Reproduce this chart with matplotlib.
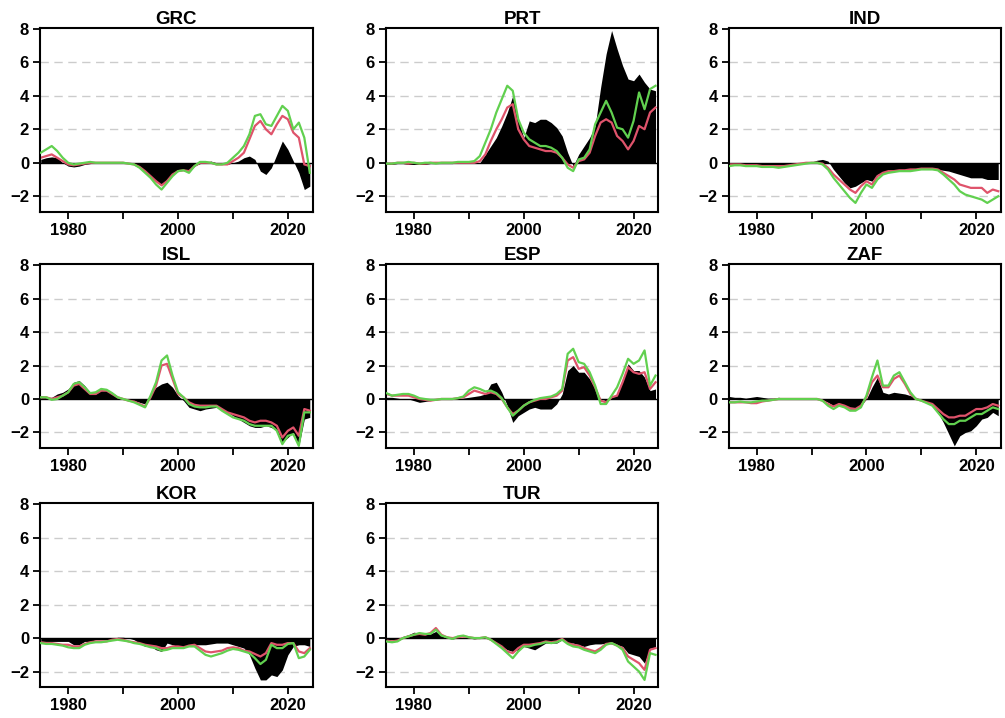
import numpy as np
import matplotlib
matplotlib.use("Agg")
import matplotlib.pyplot as plt

plt.rcParams['font.family'] = ['Liberation Sans', 'DejaVu Sans']

years = np.arange(1975, 2025)
countries = ["GRC", "PRT", "IND", "ISL", "ESP", "ZAF", "KOR", "TUR"]

# black area series (annual readings, 1975-2024)
grc_bar = [0.2, 0.3, 0.35, 0.3, 0.0, -0.2, -0.25, -0.2, -0.1, -0.05,
           0.0, 0.05, 0.05, 0.05, 0.05, 0.0, 0.0, -0.1, -0.3, -0.5,
           -0.8, -1.1, -1.3, -1.0, -0.7, -0.5, -0.4, -0.5, -0.2, -0.05,
           0.0, 0.1, 0.0, -0.1, -0.1, 0.0, 0.1, 0.3, 0.4, 0.2,
           -0.5, -0.7, -0.3, 0.5, 1.3, 0.8, 0.1, -0.6, -1.6, -1.4]
grc_red = [0.3, 0.4, 0.5, 0.3, 0.1, -0.1, -0.15, -0.1, -0.05, 0.0,
           0.0, 0.0, 0.0, 0.0, 0.0, 0.0, -0.05, -0.1, -0.25, -0.5,
           -0.8, -1.1, -1.35, -1.1, -0.7, -0.5, -0.45, -0.5, -0.2, 0.0,
           0.0, 0.0, -0.1, -0.1, -0.1, 0.1, 0.3, 0.6, 1.4, 2.2,
           2.5, 2.0, 1.7, 2.3, 2.8, 2.6, 1.8, 1.5, -0.1, -0.2]
grc_green = [0.6, 0.8, 1.0, 0.7, 0.3, 0.0, -0.1, -0.05, 0.0, 0.05,
             0.0, 0.0, 0.0, 0.0, 0.0, 0.0, -0.05, -0.1, -0.3, -0.6,
             -0.9, -1.3, -1.6, -1.2, -0.8, -0.5, -0.45, -0.6, -0.2, 0.05,
             0.05, 0.0, -0.1, -0.1, 0.0, 0.3, 0.6, 1.0, 1.7, 2.8,
             2.9, 2.3, 2.2, 2.8, 3.4, 3.1, 2.0, 2.4, 1.5, -0.6]

prt_bar = [-0.1, -0.1, -0.05, -0.05, -0.1, -0.1, -0.1, -0.1, -0.05, -0.05,
           -0.05, -0.05, -0.05, 0.0, 0.0, 0.0, 0.0, 0.0, 0.5, 1.0,
           1.5, 2.2, 3.0, 4.0, 2.6, 1.5, 2.5, 2.4, 2.6, 2.6,
           2.4, 2.1, 1.6, 0.6, -0.2, 0.5, 1.0, 1.5, 2.2, 4.5,
           6.5, 7.9, 6.8, 5.8, 5.0, 4.9, 5.3, 4.8, 4.4, 4.3]
prt_red = [-0.05, -0.05, 0.0, 0.0, -0.05, 0.0, -0.05, -0.05, 0.0, 0.0,
           0.0, 0.0, 0.0, 0.0, 0.0, 0.0, 0.0, 0.1, 0.5, 1.3,
           2.0, 2.6, 3.3, 3.5, 2.0, 1.4, 1.0, 0.9, 0.8, 0.7,
           0.7, 0.6, 0.3, -0.1, -0.3, 0.1, 0.2, 0.6, 1.6, 2.4,
           2.6, 2.4, 1.6, 1.3, 0.8, 1.3, 2.2, 2.0, 3.0, 3.3]
prt_green = [-0.05, -0.05, 0.0, 0.0, 0.05, 0.0, -0.05, 0.0, 0.0, -0.05,
             0.0, 0.0, 0.0, 0.05, 0.05, 0.05, 0.1, 0.4, 1.2, 2.0,
             3.0, 3.8, 4.6, 4.3, 2.6, 1.8, 1.4, 1.2, 1.0, 1.0,
             0.9, 0.7, 0.3, -0.3, -0.5, 0.2, 0.3, 0.8, 2.3, 3.0,
             3.7, 3.0, 2.1, 2.0, 1.5, 2.5, 4.2, 3.2, 4.4, 4.6]

ind_bar = [-0.1, -0.1, -0.1, -0.15, -0.15, -0.2, -0.25, -0.25, -0.2, -0.2,
           -0.15, -0.1, -0.1, 0.0, 0.05, 0.05, 0.15, 0.2, 0.1, -0.4,
           -0.8, -1.2, -1.5, -1.4, -1.2, -1.0, -1.1, -0.7, -0.6, -0.5,
           -0.5, -0.5, -0.45, -0.45, -0.4, -0.35, -0.35, -0.35, -0.4, -0.45,
           -0.5, -0.6, -0.7, -0.8, -0.9, -0.9, -0.9, -1.0, -1.0, -1.0]
ind_red = [-0.1, -0.1, -0.1, -0.15, -0.15, -0.15, -0.2, -0.2, -0.2, -0.2,
           -0.2, -0.15, -0.1, -0.05, 0.0, 0.0, 0.0, -0.05, -0.3, -0.7,
           -1.0, -1.3, -1.6, -1.8, -1.4, -1.1, -1.3, -0.8, -0.6, -0.5,
           -0.5, -0.45, -0.45, -0.4, -0.4, -0.35, -0.35, -0.35, -0.4, -0.6,
           -0.8, -1.0, -1.3, -1.4, -1.5, -1.5, -1.5, -1.8, -1.6, -1.7]
ind_green = [-0.2, -0.15, -0.15, -0.2, -0.2, -0.2, -0.25, -0.25, -0.25, -0.3,
             -0.25, -0.2, -0.15, -0.1, -0.05, 0.0, 0.0, -0.1, -0.4, -0.9,
             -1.3, -1.7, -2.1, -2.4, -1.8, -1.3, -1.5, -1.0, -0.7, -0.6,
             -0.55, -0.5, -0.5, -0.5, -0.45, -0.4, -0.4, -0.4, -0.45, -0.7,
             -1.0, -1.3, -1.7, -1.9, -2.0, -2.1, -2.2, -2.4, -2.2, -2.0]

isl_bar = [0.2, 0.1, 0.1, 0.3, 0.4, 0.6, 1.0, 1.1, 0.8, 0.4,
           0.3, 0.5, 0.5, 0.3, 0.1, 0.0, -0.05, -0.1, -0.2, -0.3,
           0.3, 0.7, 0.9, 1.0, 0.7, 0.2, -0.1, -0.5, -0.6, -0.7,
           -0.6, -0.55, -0.5, -0.6, -0.8, -1.0, -1.2, -1.4, -1.6, -1.7,
           -1.7, -1.6, -1.7, -1.9, -2.6, -2.3, -2.0, -2.8, -1.2, -1.1]
isl_red = [0.1, 0.1, 0.0, 0.1, 0.2, 0.4, 0.8, 0.9, 0.6, 0.3,
           0.3, 0.5, 0.5, 0.3, 0.1, 0.0, -0.1, -0.15, -0.3, -0.45,
           0.1, 0.8, 2.0, 2.1, 1.2, 0.3, 0.1, -0.2, -0.35, -0.4,
           -0.4, -0.4, -0.4, -0.6, -0.8, -0.9, -1.0, -1.1, -1.3, -1.4,
           -1.3, -1.3, -1.4, -1.6, -2.3, -1.9, -1.7, -2.2, -0.6, -0.7]
isl_green = [0.1, 0.1, -0.05, 0.0, 0.2, 0.4, 0.9, 1.0, 0.7, 0.35,
             0.4, 0.6, 0.55, 0.35, 0.1, 0.0, -0.1, -0.2, -0.35, -0.5,
             0.2, 1.0, 2.3, 2.6, 1.4, 0.4, 0.1, -0.3, -0.45, -0.5,
             -0.5, -0.45, -0.45, -0.7, -0.9, -1.1, -1.2, -1.3, -1.5, -1.6,
             -1.6, -1.6, -1.6, -1.9, -2.7, -2.2, -2.1, -2.8, -0.8, -0.8]

esp_bar = [0.1, 0.1, 0.05, 0.0, 0.0, -0.1, -0.2, -0.15, -0.1, -0.05,
           0.0, 0.0, 0.0, 0.0, 0.05, 0.1, 0.15, 0.2, 0.3, 0.9,
           1.0, 0.4, -0.4, -1.4, -1.0, -0.8, -0.6, -0.5, -0.6, -0.6,
           -0.6, -0.3, 0.3, 1.7, 2.0, 1.6, 1.6, 1.2, 0.6, 0.0,
           -0.1, 0.1, 0.2, 1.1, 2.1, 1.7, 1.7, 1.3, 0.5, 0.6]
esp_red = [0.3, 0.2, 0.2, 0.2, 0.2, 0.1, 0.0, -0.05, -0.1, -0.05,
           0.0, 0.0, 0.0, 0.05, 0.1, 0.3, 0.5, 0.4, 0.3, 0.4,
           0.3, 0.0, -0.5, -0.9, -0.7, -0.4, -0.2, -0.1, 0.0, 0.0,
           0.1, 0.2, 0.5, 2.3, 2.5, 1.8, 1.9, 1.4, 0.7, -0.1,
           -0.2, 0.1, 0.2, 1.0, 1.9, 1.6, 1.5, 1.6, 0.6, 1.0]
esp_green = [0.35, 0.2, 0.25, 0.3, 0.3, 0.2, 0.05, 0.0, -0.05, -0.05,
             0.0, 0.0, 0.0, 0.05, 0.15, 0.5, 0.7, 0.6, 0.45, 0.5,
             0.35, 0.05, -0.5, -1.0, -0.7, -0.4, -0.2, -0.05, 0.05, 0.1,
             0.15, 0.3, 0.6, 2.7, 3.0, 2.2, 2.1, 1.6, 0.8, -0.3,
             -0.3, 0.2, 0.7, 1.5, 2.4, 2.1, 2.3, 2.9, 0.8, 1.4]

zaf_bar = [0.15, 0.1, 0.1, 0.05, 0.1, 0.15, 0.1, 0.05, 0.05, 0.1,
           0.05, 0.0, 0.0, 0.0, 0.0, 0.0, 0.0, -0.05, -0.2, -0.4,
           -0.35, -0.4, -0.6, -0.6, -0.4, 0.0, 0.7, 1.3, 0.4, 0.3,
           0.4, 0.35, 0.3, 0.2, 0.1, -0.1, -0.2, -0.4, -0.8, -1.4,
           -2.1, -2.8, -2.2, -2.0, -1.9, -1.6, -1.2, -1.1, -0.8, -1.0]
zaf_red = [-0.2, -0.2, -0.2, -0.2, -0.25, -0.25, -0.15, -0.1, -0.05, 0.0,
           0.0, 0.0, 0.0, 0.0, 0.0, 0.0, 0.0, -0.1, -0.3, -0.45,
           -0.3, -0.4, -0.55, -0.6, -0.4, 0.1, 1.0, 1.4, 0.7, 0.7,
           1.2, 1.4, 0.9, 0.3, 0.0, -0.1, -0.2, -0.3, -0.6, -0.9,
           -1.1, -1.1, -1.0, -1.0, -0.8, -0.6, -0.6, -0.5, -0.3, -0.4]
zaf_green = [-0.2, -0.2, -0.15, -0.2, -0.2, -0.15, -0.1, -0.1, -0.05, 0.0,
             0.0, 0.0, 0.0, 0.0, 0.0, 0.0, 0.0, -0.1, -0.4, -0.6,
             -0.4, -0.5, -0.7, -0.7, -0.5, 0.2, 1.3, 2.3, 0.8, 0.8,
             1.4, 1.6, 1.0, 0.4, 0.0, -0.1, -0.25, -0.4, -0.8, -1.2,
             -1.5, -1.5, -1.3, -1.3, -1.1, -0.9, -0.9, -0.7, -0.5, -0.6]

kor_bar = [-0.2, -0.2, -0.2, -0.2, -0.2, -0.2, -0.4, -0.4, -0.2, -0.2,
           -0.1, -0.1, -0.1, -0.1, 0.05, 0.05, 0.0, -0.1, -0.3, -0.5,
           -0.5, -0.7, -0.8, -0.3, -0.4, -0.5, -0.5, -0.45, -0.4, -0.4,
           -0.4, -0.35, -0.3, -0.3, -0.3, -0.4, -0.5, -0.6, -1.0, -1.8,
           -2.5, -2.5, -2.2, -2.3, -1.9, -1.0, -0.5, -0.4, -0.4, -0.5]
kor_red = [-0.25, -0.3, -0.3, -0.35, -0.4, -0.4, -0.5, -0.5, -0.35, -0.25,
           -0.2, -0.2, -0.2, -0.1, -0.05, -0.1, -0.2, -0.25, -0.3, -0.4,
           -0.45, -0.5, -0.6, -0.6, -0.5, -0.5, -0.55, -0.45, -0.4, -0.6,
           -0.8, -0.85, -0.8, -0.75, -0.6, -0.55, -0.6, -0.75, -0.8, -0.95,
           -1.1, -0.9, -0.3, -0.4, -0.4, -0.3, -0.3, -0.8, -0.9, -0.6]
kor_green = [-0.3, -0.35, -0.35, -0.4, -0.45, -0.55, -0.6, -0.6, -0.4, -0.3,
             -0.25, -0.25, -0.2, -0.15, -0.1, -0.15, -0.2, -0.3, -0.35, -0.45,
             -0.55, -0.6, -0.75, -0.7, -0.6, -0.6, -0.6, -0.5, -0.5, -0.75,
             -1.0, -1.1, -1.0, -0.9, -0.75, -0.65, -0.7, -0.8, -0.9, -1.2,
             -1.55, -1.3, -0.4, -0.6, -0.6, -0.35, -0.3, -1.2, -1.1, -0.7]

tur_bar = [-0.1, -0.1, -0.1, 0.1, 0.2, 0.35, 0.3, 0.2, 0.25, 0.4,
           0.15, 0.0, -0.05, 0.0, 0.05, 0.0, -0.05, 0.0, 0.05, -0.1,
           -0.3, -0.5, -0.7, -0.8, -0.7, -0.5, -0.6, -0.7, -0.5, -0.3,
           -0.3, -0.3, -0.1, -0.3, -0.3, -0.4, -0.5, -0.4, -0.35, -0.35,
           -0.3, -0.35, -0.4, -0.5, -0.9, -1.0, -1.1, -1.5, -0.6, -0.6]
tur_red = [-0.15, -0.2, -0.15, 0.0, 0.1, 0.2, 0.25, 0.2, 0.3, 0.6,
           0.2, 0.05, 0.0, 0.05, 0.1, 0.05, 0.0, 0.0, 0.05, -0.1,
           -0.3, -0.5, -0.8, -0.9, -0.6, -0.4, -0.4, -0.35, -0.3, -0.2,
           -0.25, -0.2, -0.05, -0.3, -0.4, -0.45, -0.6, -0.7, -0.8, -0.6,
           -0.35, -0.3, -0.45, -0.6, -1.1, -1.3, -1.5, -1.9, -0.7, -0.6]
tur_green = [-0.2, -0.25, -0.2, 0.0, 0.1, 0.2, 0.3, 0.25, 0.25, 0.5,
             0.15, 0.05, -0.05, 0.1, 0.15, 0.05, 0.0, 0.0, 0.05, -0.1,
             -0.35, -0.6, -0.9, -1.2, -0.8, -0.5, -0.5, -0.4, -0.35, -0.25,
             -0.3, -0.25, -0.1, -0.35, -0.5, -0.55, -0.7, -0.8, -0.9, -0.7,
             -0.4, -0.3, -0.45, -0.7, -1.4, -1.7, -2.0, -2.5, -0.9, -1.0]

bars = [grc_bar, prt_bar, ind_bar, isl_bar, esp_bar, zaf_bar, kor_bar, tur_bar]
reds = [grc_red, prt_red, ind_red, isl_red, esp_red, zaf_red, kor_red, tur_red]
greens = [grc_green, prt_green, ind_green, isl_green, esp_green, zaf_green,
          kor_green, tur_green]

fig = plt.figure(figsize=(10.05, 7.18), dpi=100)

col_left = [0.040, 0.384, 0.725]
row_bottom = [0.705, 0.376, 0.043]
w, h = 0.271, 0.256

for i, name in enumerate(countries):
    r, c = divmod(i, 3)
    ax = fig.add_axes([col_left[c], row_bottom[r], w, h])
    for g in [-2, 2, 4, 6]:
        ax.axhline(g, color="#cccccc", lw=1.0, ls=(0, (6, 4)), zorder=0)
    ax.fill_between(years, 0, bars[i], color="black", lw=0, zorder=1)
    ax.axhline(0, color="black", lw=1.0, zorder=1)
    ax.plot(years, reds[i], color="#DF536B", lw=1.6, zorder=2)
    ax.plot(years, greens[i], color="#61D04F", lw=1.6, zorder=3)
    ax.set_xlim(1974.9, 2024.5)
    ax.set_ylim(-2.93, 8.05)
    ax.set_xticks([1980, 2000, 2020])
    ax.set_xticks([1990, 2010], minor=True)
    ax.set_yticks([-2, 0, 2, 4, 6, 8])
    ax.tick_params(which="both", direction="out", length=5, width=1.3,
                   labelsize=12, pad=3)
    for lab in ax.get_xticklabels() + ax.get_yticklabels():
        lab.set_fontweight("bold")
    for s in ax.spines.values():
        s.set_linewidth(1.5)
    ax.set_title(name, fontsize=13.5, fontweight="bold", pad=3)

fig.savefig("out.png", dpi=100)
